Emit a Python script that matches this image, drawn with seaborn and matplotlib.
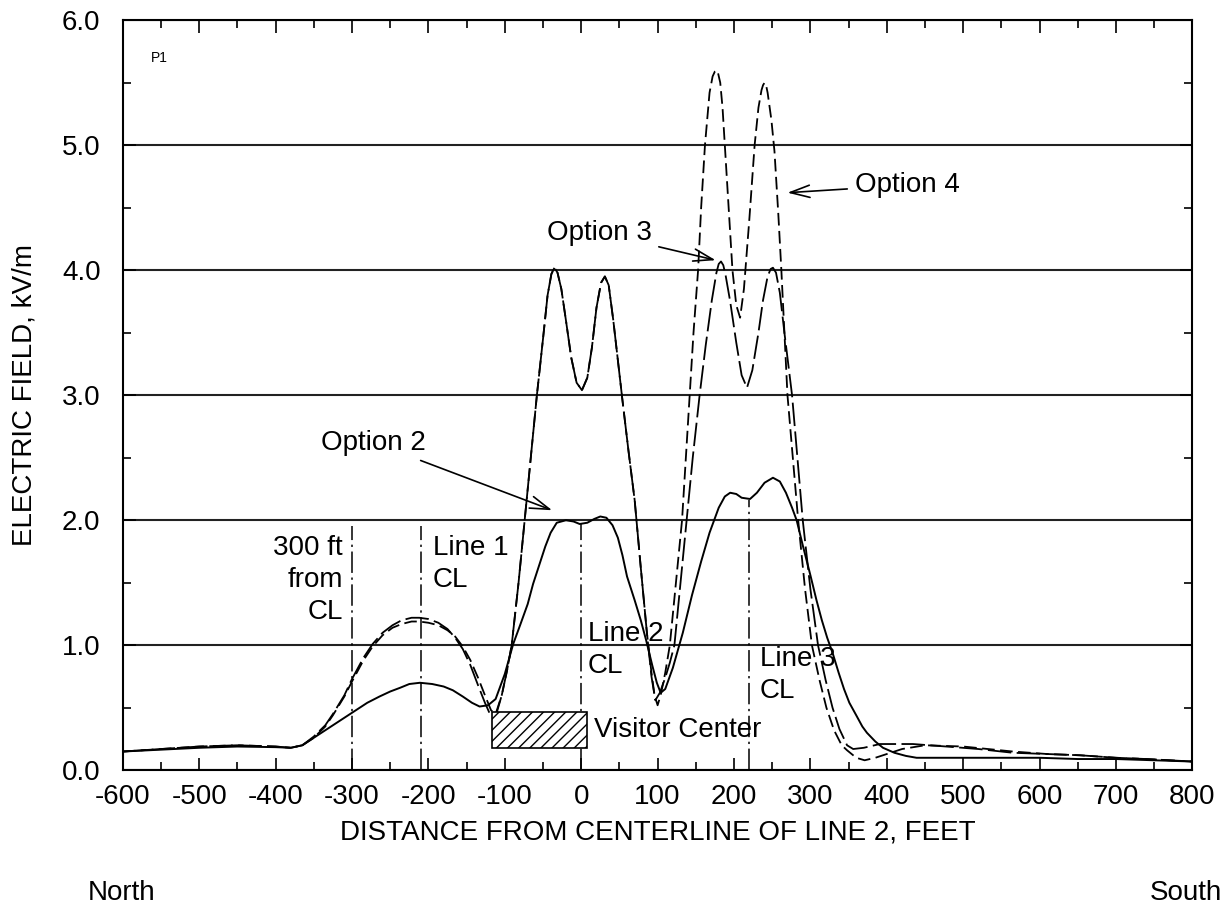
import matplotlib
matplotlib.use("Agg")
import matplotlib.pyplot as plt
from matplotlib.patches import Rectangle
from matplotlib.ticker import MultipleLocator, FormatStrFormatter
import seaborn as sns

# Option 2 (solid line)
opt2_x = [-600, -550, -500, -450, -400, -380, -365, -350, -335, -320,
          -300, -280, -264, -250, -237, -225, -211, -195, -180, -168,
          -155, -143, -133, -122, -112, -100, -89, -80, -70, -63,
          -55, -47, -40, -32, -20, -10, -2, 8, 17, 25,
          33, 41, 48, 54, 60, 70, 78, 85, 93, 99,
          104, 110, 120, 133, 145, 157, 168, 180, 188, 195,
          203, 210, 221, 230, 240, 251, 260, 268, 276, 282,
          290, 300, 308, 315, 322, 329, 337, 344, 351, 360,
          368, 374, 385, 395, 410, 425, 439, 460, 500, 550,
          600, 650, 700, 750, 800]
opt2_y = [0.15, 0.165, 0.18, 0.19, 0.185, 0.18, 0.20, 0.26, 0.32, 0.38,
          0.46, 0.54, 0.59, 0.63, 0.66, 0.69, 0.70, 0.69, 0.67, 0.64,
          0.59, 0.54, 0.51, 0.52, 0.57, 0.77, 1.01, 1.16, 1.33, 1.49,
          1.64, 1.79, 1.90, 1.98, 2.00, 1.99, 1.97, 1.98, 2.01, 2.03,
          2.02, 1.96, 1.86, 1.72, 1.55, 1.36, 1.20, 1.04, 0.84, 0.70,
          0.62, 0.65, 0.82, 1.10, 1.40, 1.67, 1.90, 2.10, 2.19, 2.22,
          2.21, 2.18, 2.17, 2.22, 2.30, 2.34, 2.31, 2.22, 2.10, 2.00,
          1.80, 1.56, 1.36, 1.20, 1.06, 0.94, 0.78, 0.65, 0.54, 0.44,
          0.35, 0.30, 0.23, 0.18, 0.14, 0.115, 0.10, 0.10, 0.10, 0.10,
          0.10, 0.09, 0.09, 0.08, 0.07]

# Option 3 (long dashes)
opt3_x = [-600, -550, -500, -450, -400, -380, -365, -350, -335, -325,
          -310, -300, -285, -273, -260, -247, -235, -222, -212, -200,
          -187, -175, -165, -155, -145, -135, -126, -118, -112, -104,
          -97, -91, -82, -74, -66, -58, -50, -44, -39, -35,
          -31, -26, -20, -13, -6, 1, 8, 14, 20, 26,
          31, 36, 42, 48, 54, 62, 70, 78, 86, 92,
          97, 103, 110, 116, 122, 130, 138, 146, 155, 163,
          171, 177, 180, 183, 186, 189, 195, 203, 210, 217,
          224, 232, 238, 244, 248, 251, 255, 260, 266, 276,
          283, 290, 300, 310, 320, 329, 338, 348, 356, 370,
          391, 434, 478, 520, 565, 610, 653, 700, 740, 800]
opt3_y = [0.15, 0.17, 0.19, 0.20, 0.19, 0.18, 0.20, 0.27, 0.36, 0.45,
          0.60, 0.73, 0.90, 1.01, 1.10, 1.16, 1.20, 1.22, 1.22, 1.21,
          1.18, 1.13, 1.06, 0.97, 0.84, 0.68, 0.54, 0.43, 0.43, 0.60,
          0.80, 1.00, 1.50, 2.00, 2.50, 3.00, 3.45, 3.80, 3.97, 4.02,
          3.98, 3.85, 3.60, 3.30, 3.10, 3.04, 3.14, 3.38, 3.70, 3.90,
          3.95, 3.88, 3.60, 3.28, 2.96, 2.55, 2.16, 1.62, 1.10, 0.75,
          0.56, 0.62, 0.74, 0.86, 1.00, 1.50, 2.00, 2.50, 3.00, 3.40,
          3.76, 3.98, 4.05, 4.07, 4.04, 3.96, 3.75, 3.42, 3.16, 3.06,
          3.20, 3.50, 3.76, 3.95, 4.01, 4.02, 3.98, 3.82, 3.50, 3.00,
          2.50, 2.00, 1.45, 1.00, 0.72, 0.50, 0.33, 0.20, 0.17, 0.18,
          0.21, 0.21, 0.19, 0.17, 0.14, 0.13, 0.12, 0.10, 0.09, 0.07]

# Option 4 (medium dashes)
opt4_x = [-600, -550, -500, -450, -400, -380, -365, -350, -335, -325,
          -310, -300, -285, -273, -260, -247, -235, -222, -212, -200,
          -187, -175, -165, -155, -145, -135, -126, -118, -112, -104,
          -97, -91, -82, -74, -66, -58, -50, -44, -39, -35,
          -31, -26, -20, -13, -6, 1, 8, 14, 20, 26,
          31, 36, 42, 48, 54, 62, 70, 78, 86, 92,
          96, 100, 104, 110, 116, 124, 132, 137, 142, 147,
          153, 157, 162, 168, 172, 175, 177, 179, 182, 185,
          188, 193, 198, 203, 208, 213, 220, 227, 232, 236,
          238, 240, 242, 244, 249, 253, 258, 262, 270, 277,
          284, 293, 302, 312, 321, 331, 341, 348, 360, 371,
          385, 400, 420, 450, 500, 565, 610, 653, 700, 740,
          800]
opt4_y = [0.15, 0.17, 0.19, 0.20, 0.19, 0.18, 0.20, 0.26, 0.35, 0.44,
          0.59, 0.71, 0.88, 0.99, 1.08, 1.14, 1.17, 1.19, 1.19, 1.18,
          1.16, 1.12, 1.07, 0.99, 0.88, 0.74, 0.60, 0.48, 0.45, 0.60,
          0.80, 1.00, 1.50, 2.00, 2.50, 3.00, 3.45, 3.80, 3.97, 4.02,
          3.98, 3.85, 3.60, 3.30, 3.10, 3.04, 3.14, 3.38, 3.70, 3.90,
          3.95, 3.88, 3.60, 3.28, 2.96, 2.55, 2.16, 1.62, 1.10, 0.78,
          0.60, 0.52, 0.60, 0.78, 1.00, 1.50, 2.00, 2.50, 3.00, 3.50,
          4.00, 4.50, 5.00, 5.42, 5.55, 5.59, 5.60, 5.58, 5.50, 5.30,
          5.00, 4.50, 4.00, 3.72, 3.62, 3.85, 4.40, 5.00, 5.30, 5.44,
          5.48, 5.50, 5.48, 5.42, 5.20, 4.95, 4.45, 4.00, 3.00, 2.50,
          2.00, 1.45, 1.00, 0.72, 0.50, 0.32, 0.20, 0.16, 0.10, 0.08,
          0.10, 0.13, 0.17, 0.20, 0.19, 0.15, 0.13, 0.12, 0.10, 0.09,
          0.07]

# centerline markers
cl_x = [-300, -210, 0, 220]
cl_top = [1.95, 1.95, 1.97, 2.16]

# visitor center footprint
vc_x = [-117, 7]
vc_y = [0.18, 0.47]

sns.set_style("ticks")
plt.rcParams['font.family'] = ['Liberation Sans', 'DejaVu Sans']
plt.rcParams['axes.unicode_minus'] = False
plt.rcParams['hatch.linewidth'] = 1.0
plt.rcParams['text.color'] = 'black'
plt.rcParams['axes.labelcolor'] = 'black'
plt.rcParams['xtick.color'] = 'black'
plt.rcParams['ytick.color'] = 'black'

fig, ax = plt.subplots(figsize=(12.28, 9.17), dpi=100)
fig.subplots_adjust(left=0.100, right=0.971, top=0.978, bottom=0.160)

# horizontal grid
ax.set_axisbelow(True)
ax.yaxis.grid(True, which='major', color='#222222', lw=1.5)

# curves
sns.lineplot(x=opt2_x, y=opt2_y, ax=ax, color='black', lw=1.4,
             estimator=None, sort=False)
sns.lineplot(x=opt3_x, y=opt3_y, ax=ax, color='black', lw=1.3,
             linestyle=(0, (13, 3)), estimator=None, sort=False)
sns.lineplot(x=opt4_x, y=opt4_y, ax=ax, color='black', lw=1.3,
             linestyle=(0, (7, 3)), estimator=None, sort=False)

# dash-dot centerlines
ax.vlines(cl_x, 0, cl_top, colors='black', lw=1.1,
          linestyles=[(0, (14, 3, 1.5, 3))])

# visitor center box
ax.add_patch(Rectangle((vc_x[0], vc_y[0]), vc_x[1] - vc_x[0], vc_y[1] - vc_y[0],
                       facecolor='white', edgecolor='black', hatch='///', lw=1.2, zorder=3))

fs = 20
ax.text(-312, 1.52, "300 ft\nfrom\nCL", ha='right', va='center', fontsize=fs, linespacing=1.3)
ax.text(-194, 1.65, "Line 1\nCL", ha='left', va='center', fontsize=fs, linespacing=1.3)
ax.text(9, 0.96, "Line 2\nCL", ha='left', va='center', fontsize=fs, linespacing=1.3)
ax.text(234, 0.76, "Line 3\nCL", ha='left', va='center', fontsize=fs, linespacing=1.3)
ax.text(17, 0.32, "Visitor Center", ha='left', va='center', fontsize=fs)
ax.text(-563, 5.7, "P1", ha='left', va='center', fontsize=10)

arrow = dict(arrowstyle='->,head_length=0.7,head_width=0.22', color='black', lw=1.2,
             shrinkA=3, shrinkB=0)
ax.annotate("Option 2", xy=(-38, 2.08), xytext=(-203, 2.62), ha='right', va='center',
            fontsize=fs, arrowprops=arrow)
ax.annotate("Option 3", xy=(176, 4.08), xytext=(92, 4.3), ha='right', va='center',
            fontsize=fs, arrowprops=arrow)
ax.annotate("Option 4", xy=(270, 4.62), xytext=(358, 4.68), ha='left', va='center',
            fontsize=fs, arrowprops=arrow)

# axes
ax.set_xlim(-600, 800)
ax.set_ylim(0, 6)
ax.xaxis.set_major_locator(MultipleLocator(100))
ax.xaxis.set_minor_locator(MultipleLocator(50))
ax.yaxis.set_major_locator(MultipleLocator(1))
ax.yaxis.set_minor_locator(MultipleLocator(0.5))
ax.yaxis.set_major_formatter(FormatStrFormatter('%.1f'))
ax.tick_params(which='both', direction='in', top=True, right=True, width=1.2, colors='black')
ax.tick_params(which='major', length=9)
ax.tick_params(which='minor', length=6)
ax.tick_params(axis='x', labelsize=fs, pad=10)
ax.tick_params(axis='y', labelsize=fs, pad=16)
for s in ax.spines.values():
    s.set_color('black')
    s.set_linewidth(1.5)

ax.set_xlabel("DISTANCE FROM CENTERLINE OF LINE 2, FEET", fontsize=fs)
ax.xaxis.set_label_coords(0.5, -0.066)
ax.set_ylabel("ELECTRIC FIELD, kV/m", fontsize=fs)
ax.yaxis.set_label_coords(-0.080, 0.5)

fig.text(88 / 1228, 1 - 893 / 917, "North", ha='left', va='center', fontsize=fs)
fig.text(1222 / 1228, 1 - 893 / 917, "South", ha='right', va='center', fontsize=fs)

fig.savefig("out.png", dpi=100)
